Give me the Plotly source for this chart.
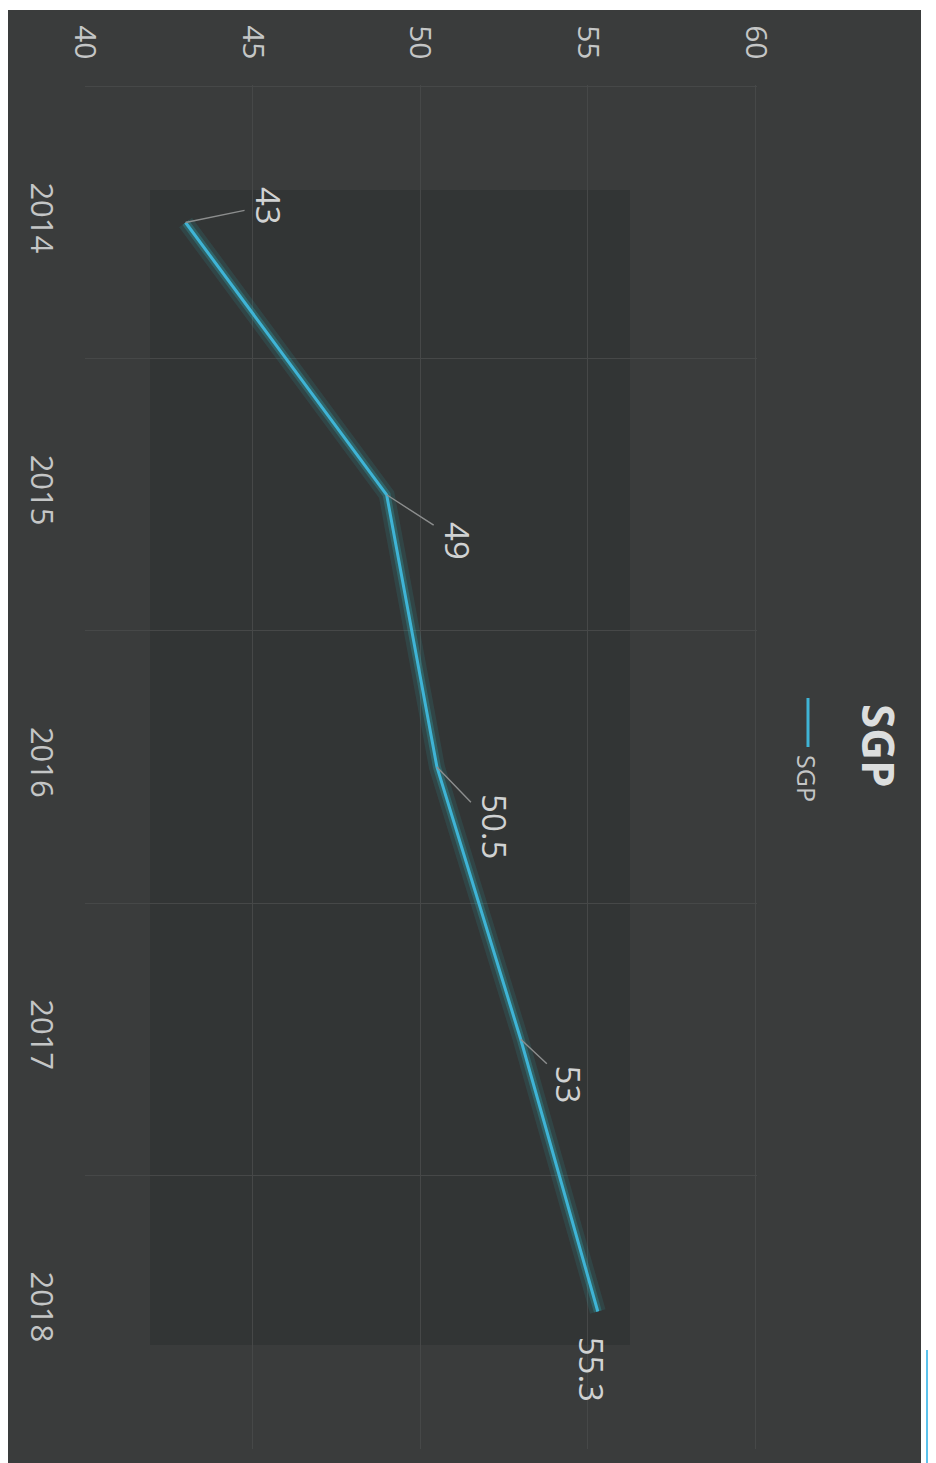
import plotly.graph_objects as go

# ---- data ----
years = ["2014", "2015", "2016", "2017", "2018"]
values = [43, 49, 50.5, 53, 55.3]
value_labels = ["43", "49", "50.5", "53", "55.3"]
value_ticks = [40, 45, 50, 55, 60]
series_name = "SGP"
chart_title = "SGP"

# ---- layout geometry (pixels; page has an 8px body margin) ----
OFF = 8
W, H = 936 - OFF, 1463 - OFF
ML, MT = 85 - OFF, 85 - OFF
PW, PH = 672, 1364
MR, MB = W - ML - PW, H - MT - PH


def px(x):
    return (x - OFF - ML) / PW


def py(y):
    return (MT + PH - (y - OFF)) / PH


LINE = "#3fb4d6"
TXT = "#c4c6c6"
FONT = "Open Sans"

# label offsets (pixels) from point to label centre
label_off = [(83, -17), (71, 46), (58, 60), (48, 45), (-6, 58)]
label_arrow = [True, True, True, True, False]

fig = go.Figure()
# glow
fig.add_trace(go.Scatter(x=values, y=years, mode="lines",
                         line=dict(color="rgba(50,190,200,0.12)", width=16),
                         hoverinfo="skip", showlegend=False))
fig.add_trace(go.Scatter(x=values, y=years, mode="lines",
                         line=dict(color="rgba(50,190,200,0.26)", width=8),
                         hoverinfo="skip", showlegend=False))
fig.add_trace(go.Scatter(x=values, y=years, mode="lines", name=series_name,
                         line=dict(color=LINE, width=3), showlegend=False))

annotations = []
for i, (v, t, (ax, ay), sa) in enumerate(zip(values, value_labels, label_off, label_arrow)):
    annotations.append(dict(
        x=v, y=i, xref="x", yref="y", text=t, textangle=90,
        showarrow=True, arrowhead=0, arrowwidth=1.4,
        arrowcolor="#8c8e8e" if sa else "rgba(0,0,0,0)",
        ax=ax, ay=ay, standoff=0,
        font=dict(family=FONT, size=33, color="#d0d2d2")))

# title
annotations.append(dict(x=px(879), y=py(746), xref="paper", yref="paper",
                        xanchor="center", yanchor="middle",
                        text="<b>%s</b>" % chart_title, textangle=90, showarrow=False,
                        font=dict(family=FONT, size=44, color="#dcdede")))
# legend text
annotations.append(dict(x=px(807), y=py(778), xref="paper", yref="paper",
                        xanchor="center", yanchor="middle",
                        text=series_name, textangle=90, showarrow=False,
                        font=dict(family=FONT, size=25, color=TXT)))

shapes = [
    # scanned page background
    dict(type="rect", xref="paper", yref="paper", x0=px(OFF), x1=px(921),
         y0=py(1470), y1=py(10), fillcolor="#3a3c3c", line=dict(width=0), layer="below"),
    # darker inner area
    dict(type="rect", xref="paper", yref="paper", x0=px(150), x1=px(630),
         y0=py(1345), y1=py(190), fillcolor="rgba(40,42,42,0.40)", line=dict(width=0), layer="below"),
    # legend key
    dict(type="line", xref="paper", yref="paper", x0=px(808), x1=px(808),
         y0=py(698), y1=py(747), line=dict(color=LINE, width=3)),
    # blue bit bottom right of scan
    dict(type="rect", xref="paper", yref="paper", x0=px(926), x1=px(940),
         y0=py(1470), y1=py(1350), fillcolor="#5bc2ec", line=dict(width=0), layer="below"),
]

fig.update_layout(
    width=W, height=H,
    margin=dict(l=ML, r=MR, t=MT, b=MB, autoexpand=False),
    paper_bgcolor="#ffffff", plot_bgcolor="rgba(0,0,0,0)",
    showlegend=False,
    annotations=annotations, shapes=shapes,
    xaxis=dict(range=[40, 60.05], tickvals=value_ticks, side="top", tickangle=90,
               showgrid=True, gridcolor="#464848", gridwidth=1, zeroline=False,
               showline=False, ticks="", ticklabelstandoff=20, automargin=False,
               tickfont=dict(family=FONT, size=30, color=TXT)),
    yaxis=dict(type="category", categoryorder="array", categoryarray=years,
               range=[4.505, -0.505], tickangle=90, tickson="boundaries",
               showgrid=True, gridcolor="#464848", gridwidth=1, zeroline=False,
               showline=False, ticks="", ticklabelstandoff=22, automargin=False,
               tickfont=dict(family=FONT, size=31, color=TXT)),
)

fig.write_html("out.html")
